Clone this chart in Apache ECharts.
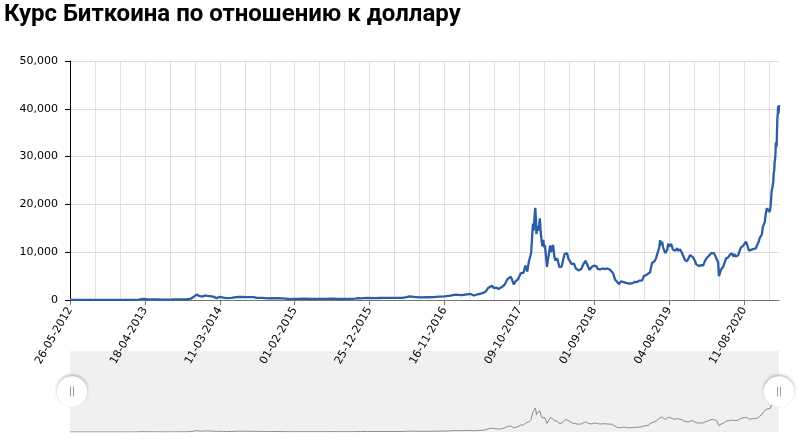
<!DOCTYPE html>
<html>
<head>
<meta charset="utf-8">
<script src="https://cdn.jsdelivr.net/npm/echarts@6/dist/echarts.min.js"></script>
<style>
html,body{margin:0;padding:0;background:#fff;}
#chart{width:809px;height:445px;}
</style>
</head>
<body>
<div id="chart"></div>
<script>
// Chart title
const chartTitle = 'Курс Биткоина по отношению к доллару';

// X tick labels (one every 327 daily categories)
const tickLabels = ['26-05-2012','18-04-2013','11-03-2014','01-02-2015','25-12-2015','16-11-2016','09-10-2017','01-09-2018','04-08-2019','11-08-2020'];
const labelStep = 327;
const lastIndex = 3095;

// Category (day) index of each sampled point
const dayIndex = [
  0,40,83,100,128,170,220,260,278,300,318,325,340,354,380,405,430,446,470,493,
  510,524,541,548,553,557,563,571,578,589,599,610,625,633,640,646,653,670,684,705,
  725,738,760,780,800,814,840,862,880,903,930,963,975,995,1020,1054,1085,1115,1142,1160,
  1185,1223,1245,1257,1270,1298,1329,1350,1375,1420,1450,1470,1483,1500,1529,1560,1589,1610,1635,1660,
  1684,1691,1710,1734,1749,1763,1780,1801,1815,1825,1832,1842,1850,1860,1870,1877,1885,1897,1909,1916,
  1924,1930,1937,1945,1955,1962,1968,1973,1980,1988,1992,1996,2003,2010,2013,2016,2021,2024,2028,2031,
  2034,2036,2040,2043,2047,2051,2055,2059,2062,2066,2070,2073,2078,2082,2086,2090,2096,2100,2105,2109,
  2114,2118,2122,2127,2131,2136,2141,2146,2152,2159,2165,2170,2176,2183,2190,2194,2200,2208,2214,2220,
  2224,2232,2240,2250,2256,2262,2267,2275,2280,2289,2295,2299,2303,2308,2314,2320,2325,2330,2335,2340,
  2345,2352,2357,2362,2371,2379,2388,2397,2405,2410,2414,2420,2427,2432,2436,2440,2445,2452,2457,2462,
  2466,2470,2475,2480,2485,2490,2493,2497,2501,2505,2510,2518,2524,2532,2541,2546,2550,2555,2559,2563,
  2567,2572,2576,2580,2585,2589,2593,2598,2602,2607,2611,2616,2620,2624,2628,2631,2634,2638,2641,2644,
  2648,2651,2654,2657,2660,2663,2667,2670,2672,2676,2680,2685,2690,2694,2698,2702,2707,2711,2715,2720,
  2724,2728,2733,2737,2741,2746,2750,2755,2759,2764,2768,2772,2776,2780,2785,2790,2794,2799,2803,2807,
  2811,2816,2820,2825,2829,2833,2836,2838,2842,2846,2851,2855,2859,2864,2868,2873,2877,2881,2885,2887,
  2890,2894,2896,2899,2901,2903,2905,2908,2910,2912,2914,2916,2918,2920,2925,2929,2934,2938,2942,2946,
  2951,2955,2959,2964,2968,2973,2977,2981,2985,2990,2994,2998,3003,3007,3011,3016,3020,3025,3029,3033,
  3037,3040,3042,3046,3048,3050,3053,3055,3057,3059,3061,3063,3066,3068,3070,3072,3074,3076,3078,3080,
  3081,3083,3085,3087,3088,3090,3091,3093,3095
];

// Bitcoin price, USD
const priceUsd = [
  5.1,5.3,13,10.5,12.4,11,13.5,22,33,93,230,80,120,115,105,68,95,100,130,125,
  160,205,700,900,1130,1150,850,600,700,950,850,820,700,600,400,560,630,480,380,450,
  600,660,630,620,590,470,460,320,370,390,330,180,220,235,260,220,235,235,300,260,
  210,240,300,400,330,455,380,420,430,450,455,580,750,650,540,580,610,700,740,900,
  1130,780,1000,1180,1260,940,1200,1420,1800,2500,2200,2980,2500,2600,2300,1920,2700,3200,4300,4100,
  4900,4200,3250,3900,4300,4600,5600,6000,5700,7200,7450,5950,8000,9300,9900,9800,16000,14500,17500,19300,
  17000,13800,15500,14500,15200,17100,14000,13800,11200,12600,11000,11500,9000,6900,8300,8500,11400,10000,11000,11500,
  9200,8300,8200,8700,7900,6900,6600,7000,8200,9600,9300,9800,8600,8300,7500,7100,7600,6600,6700,6200,
  5900,6500,7400,8200,7800,7000,6300,6400,7000,7200,7300,7000,6500,6550,6400,6450,6600,6700,6450,6500,
  6600,6400,6350,6300,5600,4300,3800,3300,3900,3700,3800,3900,3600,3400,3500,3650,3450,3700,3550,3600,
  3800,3850,3750,3900,4050,4000,3900,4050,4100,5000,5100,5300,5300,5800,7800,7400,8000,7900,8800,9600,
  9500,10900,12500,11500,12200,11000,10500,9800,10200,10500,11800,11200,11500,11700,11200,10600,10800,10900,10300,10100,
  10600,10800,10300,10100,10400,10600,10200,10000,9900,9700,8900,8300,8200,8100,8400,8200,9400,9200,9200,8900,
  8700,8200,7500,7400,7300,7100,7200,7300,7200,7200,7600,8200,8500,8800,8900,9300,9600,9800,10200,10000,
  9800,9600,8900,8700,7900,5000,5300,5200,6400,6600,6900,7200,7300,8700,8800,8900,9300,9500,9500,9800,
  9700,9400,9100,9400,9600,9300,9100,9200,9400,9200,9100,9300,9600,9500,10500,11000,11300,11300,11600,11600,
  12200,11700,11500,10300,10300,10500,10500,10700,10700,10800,10800,11300,11200,12300,13000,13200,13700,15400,15500,16300,
  18000,18700,19200,18600,19100,19000,18400,18300,19000,19300,21300,22800,23500,23400,24700,26500,27000,28900,29400,31000,
  33000,32000,32500,36800,38000,39300,40500,39000,40800
];

const points = dayIndex.map((d, i) => [d, priceUsd[i]]);

const handleSvg = '<svg xmlns="http://www.w3.org/2000/svg" width="40" height="40" viewBox="0 0 40 40">' +
  '<defs><filter id="s" x="-50%" y="-50%" width="200%" height="200%"><feGaussianBlur stdDeviation="1.8"/></filter></defs>' +
  '<circle cx="20" cy="21.5" r="15.2" fill="rgba(0,0,0,0.28)" filter="url(#s)"/>' +
  '<circle cx="20" cy="20" r="15.3" fill="#ffffff"/>' +
  '<line x1="18.5" y1="15" x2="18.5" y2="25" stroke="#a0a0a0" stroke-width="1"/>' +
  '<line x1="21.5" y1="15" x2="21.5" y2="25" stroke="#a0a0a0" stroke-width="1"/></svg>';
const handleIcon = 'image://data:image/svg+xml;charset=utf-8,' + encodeURIComponent(handleSvg);

const chart = echarts.init(document.getElementById('chart'), null, {renderer: 'canvas'});
chart.setOption({
  animation: false,
  backgroundColor: '#ffffff',
  title: {
    text: chartTitle,
    left: 4, top: 3, padding: 0,
    textStyle: {fontFamily: 'Roboto', fontWeight: 'bold', fontSize: 24, color: '#000'}
  },
  grid: [
    {left: 70, right: 30, top: 61, bottom: 145},
    {left: 70, right: 30, top: 351, height: 81, show: true, backgroundColor: '#f0f0f0', borderWidth: 0}
  ],
  xAxis: [
    {
      type: 'value', gridIndex: 0, min: 0, max: lastIndex, interval: labelStep,
      axisLine: {show: true, lineStyle: {color: '#777', width: 1}},
      axisTick: {show: true, length: 5, lineStyle: {color: '#777'}},
      minorTick: {show: false, splitNumber: 3},
      axisLabel: {
        rotate: 60, margin: 8, color: '#000', fontFamily: 'DejaVu Sans', fontSize: 11,
        showMaxLabel: false,
        formatter: function (v) {
          if (v % labelStep !== 0) return '';
          return tickLabels[v / labelStep] || '';
        }
      },
      splitLine: {show: true, showMaxLine: false, lineStyle: {color: '#e0e0e0', width: 1}},
      minorSplitLine: {show: true, lineStyle: {color: '#e0e0e0', width: 1}}
    },
    {type: 'value', gridIndex: 1, min: 0, max: lastIndex, show: false}
  ],
  yAxis: [
    {
      type: 'value', gridIndex: 0, min: 0, max: 50000, interval: 10000,
      axisLine: {show: true, lineStyle: {color: '#000', width: 1}},
      axisTick: {show: true, length: 5, lineStyle: {color: '#000'}},
      axisLabel: {
        margin: 12, color: '#000', fontFamily: 'DejaVu Sans', fontSize: 11,
        formatter: function (v) { return v.toLocaleString('en-US'); }
      },
      splitLine: {show: true, lineStyle: {color: '#dcdcdc', width: 1}}
    },
    {type: 'value', gridIndex: 1, min: 0, max: 65000, show: false}
  ],
  dataZoom: [{
    type: 'slider', xAxisIndex: [0, 1], filterMode: 'none',
    start: 0, end: 100,
    left: 70, right: 30, top: 351, height: 81,
    backgroundColor: 'rgba(0,0,0,0)', borderColor: 'rgba(0,0,0,0)',
    fillerColor: 'rgba(0,0,0,0)',
    showDataShadow: false, showDetail: false,
    brushSelect: false, moveHandleSize: 0,
    handleIcon: handleIcon, handleSize: 40,
    handleStyle: {color: '#fff', borderWidth: 0},
    emphasis: {handleStyle: {color: '#fff', borderWidth: 0}}
  }],
  series: [
    {
      type: 'line', xAxisIndex: 0, yAxisIndex: 0, data: points,
      showSymbol: false, symbol: 'none',
      lineStyle: {color: '#2c5da7', width: 2.3}, itemStyle: {color: '#2c5da7'}
    },
    {
      type: 'line', xAxisIndex: 1, yAxisIndex: 1, data: points,
      showSymbol: false, symbol: 'none', silent: true,
      lineStyle: {color: '#8c8c8c', width: 1}
    }
  ]
});
</script>
</body>
</html>
